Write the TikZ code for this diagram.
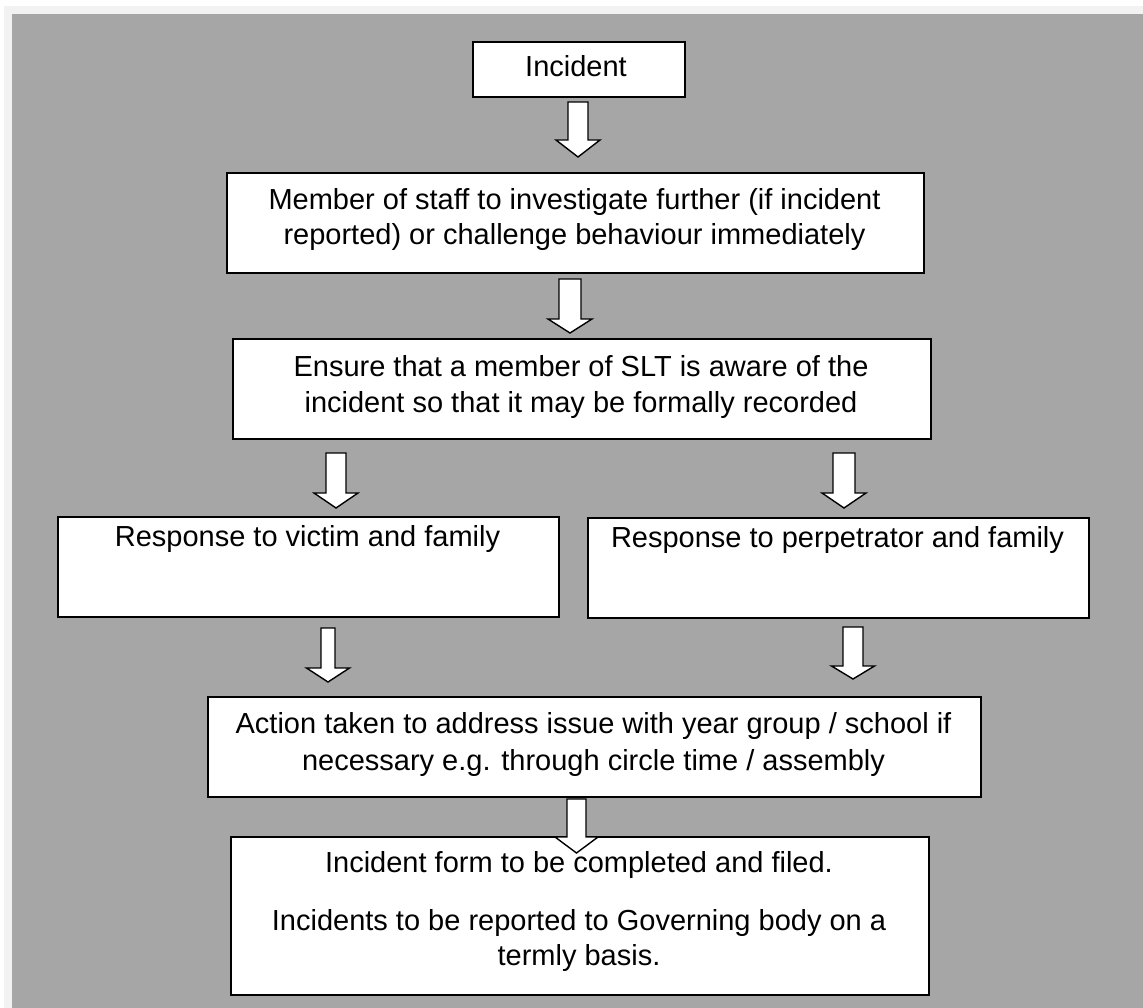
\documentclass[tikz,border=0pt]{standalone}
\usepackage{fontspec}
\setmainfont{Liberation Sans}
\definecolor{bggray}{HTML}{A6A6A6}
\definecolor{edgegray}{HTML}{F2F2F2}
\newcommand\blkarrow[6]{%
  \draw[barrow] (#1-#5,#2) -- (#1+#5,#2) -- (#1+#5,#3) -- (#1+#6,#3) -- (#1,#4)
     -- (#1-#6,#3) -- (#1-#5,#3) -- cycle;}
\begin{document}
\begin{tikzpicture}[x=1pt,y=-1pt,
  box/.style={draw=black, line width=1.8pt, fill=white, inner sep=0pt, anchor=north west},
  ln/.style={anchor=base, inner sep=0pt, font=\fontsize{29}{35}\selectfont},
  barrow/.style={draw=black, line width=1.4pt, fill=white, line join=miter}]
\path[use as bounding box] (0,0) rectangle (1143,1008);
\fill[white] (0,0) rectangle (1143,1008);
\fill[edgegray] (4,6) rectangle (1143,1008);
\fill[bggray] (12,14) rectangle (1143,1008);

% boxes
\node[box, minimum width=212pt, minimum height=55pt] (b1) at (472,41) {};
\node[box, minimum width=697pt, minimum height=100pt] (b2) at (226,172) {};
\node[box, minimum width=698pt, minimum height=100pt] (b3) at (232,338) {};
\node[box, minimum width=501pt, minimum height=100pt] (b4) at (57,516) {};
\node[box, minimum width=501pt, minimum height=100pt] (b5) at (587,517) {};
\node[box, minimum width=773pt, minimum height=100pt] (b6) at (207,696) {};
\node[box, minimum width=698pt, minimum height=158pt] (b7) at (230,836) {};

% texts
\node[ln] (t1) at (576,77) {Incident};
\node[ln] (t2a) at (574.5,210) {Member of staff to investigate further (if incident};
\node[ln] (t2b) at (574.5,245) {reported) or challenge behaviour immediately};
\node[ln] (t3a) at (581,376) {Ensure that a member of SLT is aware of the};
\node[ln] (t3b) at (581,412) {incident so that it may be formally recorded};
\node[ln] (t4) at (307.5,546) {Response to victim and family};
\node[ln] (t5) at (837.5,547) {Response to perpetrator and family};
\node[ln] (t6a) at (593.5,733) {Action taken to address issue with year group / school if};
\node[ln] (t6b) at (593.5,770) {necessary e.g. through circle time / assembly};
\node[ln] (t7a) at (579,872) {Incident form to be completed and filed.};
\node[ln] (t7b) at (579,930) {Incidents to be reported to Governing body on a};
\node[ln] (t7c) at (579,965) {termly basis.};

% block arrows
\blkarrow{578}{102}{140}{157}{10}{22}
\blkarrow{570}{279}{319}{333}{11}{22}
\blkarrow{336}{453}{493}{508}{10}{22}
\blkarrow{844}{453}{493}{508}{11}{22}
\blkarrow{328}{628}{668}{682}{7}{21.5}
\blkarrow{853}{627}{666}{679}{10}{21.5}
\blkarrow{576.5}{799}{837}{853}{9.5}{21.5}
\end{tikzpicture}
\end{document}
